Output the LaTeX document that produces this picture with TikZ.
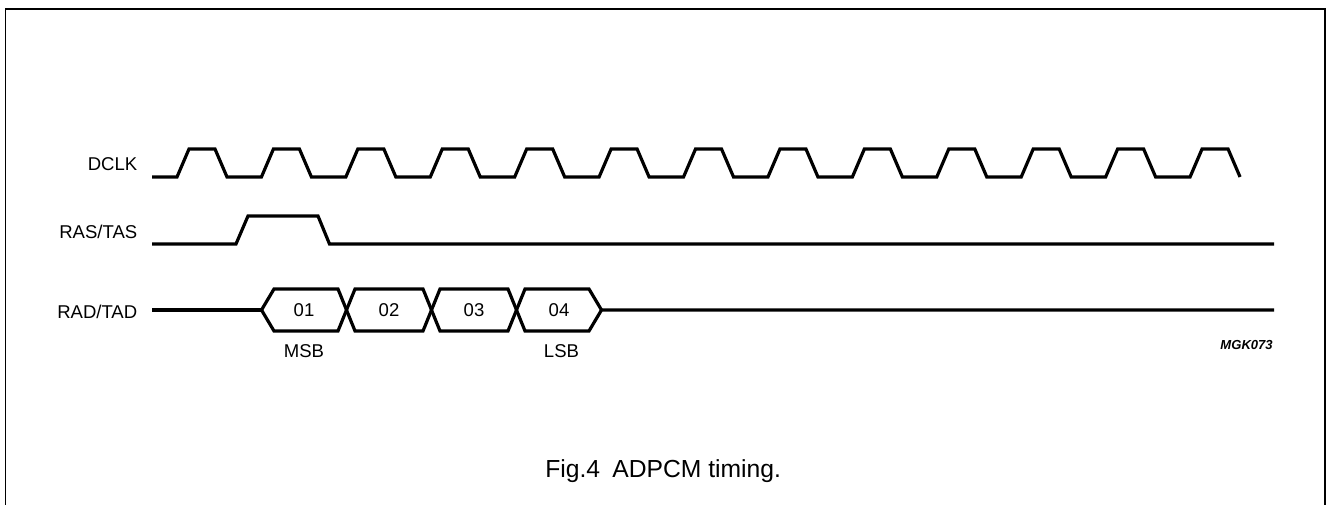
\documentclass[tikz,border=0pt]{standalone}
\usepackage{fontspec}
\setmainfont{Liberation Sans}
\begin{document}
\begin{tikzpicture}[x=0.75pt,y=-0.75pt,
  sig/.style={line width=2.4pt, line join=miter},
  frame/.style={line width=1pt},
  lab/.style={font=\fontsize{13.9}{16}\selectfont, inner sep=0pt},
  captext/.style={font=\fontsize{18.5}{22}\selectfont, inner sep=0pt},
  code/.style={font=\fontsize{9.8}{12}\selectfont\bfseries\itshape, inner sep=0pt}]
\useasboundingbox (0,0) rectangle (1326,505);
\draw[frame] (5.5,505) -- (5.5,9) -- (1325,9) -- (1325,505);
% DCLK
\draw[sig] (152,177) foreach \k in {0,...,12} { -- ({177+\k*84.42},177) -- ({189+\k*84.42},149) -- ({215+\k*84.42},149) -- ({227+\k*84.42},177) };
% RAS/TAS
\draw[sig] (152,244) -- (236,244) -- (248,216) -- (318,216) -- (329.5,244) -- (1274,244);
% RAD/TAD
\def\bA{261.5}\def\bB{346.5}\def\bC{431.5}\def\bD{516.5}\def\bE{601.5}
\draw[sig] (152,310) -- (\bA,310);
\draw[sig] (\bA,310) -- (\bA+12.5,289) -- (\bB-8.5,289) -- (\bB+8.5,331) -- (\bC-8.5,331) -- (\bC+8.5,289) -- (\bD-8.5,289) -- (\bD+8.5,331) -- (\bE-12.5,331) -- (\bE,310) -- (1274,310);
\draw[sig] (\bA,310) -- (\bA+12.5,331) -- (\bB-8.5,331) -- (\bB+8.5,289) -- (\bC-8.5,289) -- (\bC+8.5,331) -- (\bD-8.5,331) -- (\bD+8.5,289) -- (\bE-12.5,289) -- (\bE,310);
% labels
\node[lab, anchor=base east] (dclk) at (137.5,171) {DCLK};
\node[lab, anchor=base east] (ras) at (137.5,239) {RAS/TAS};
\node[lab, anchor=base east] (rad) at (137.5,318.5) {RAD/TAD};
\node[lab, anchor=base] (d1) at (304,316.5) {01};
\node[lab, anchor=base] (d2) at (389,316.5) {02};
\node[lab, anchor=base] (d3) at (474,316.5) {03};
\node[lab, anchor=base] (d4) at (559,316.5) {04};
\node[lab, anchor=base] (msb) at (304,358) {MSB};
\node[lab, anchor=base] (lsb) at (561.5,358) {LSB};
\node[code, anchor=base east] (mgk) at (1273,349.3) {MGK073};
\node[captext, anchor=base west] (fig) at (545,477) {Fig.4\hspace{0.5em}ADPCM timing.};
\end{tikzpicture}
\end{document}
